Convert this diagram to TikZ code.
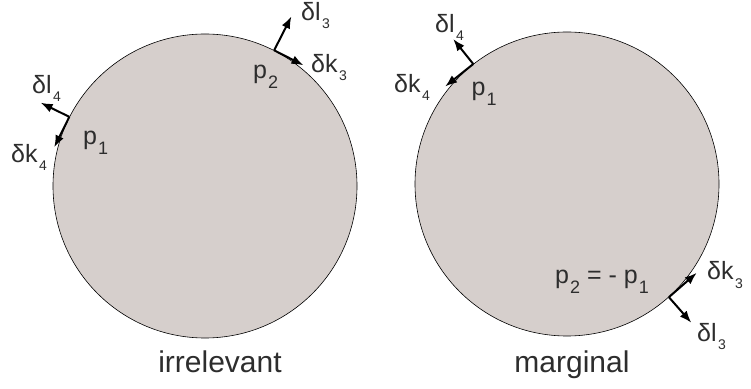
\documentclass[tikz,border=0pt]{standalone}
\usepackage{fontspec}
\setmainfont{Liberation Sans}
\usetikzlibrary{arrows.meta}
\definecolor{discFill}{RGB}{214,207,204}
\definecolor{labelGray}{RGB}{45,45,45}
% small subscripts for the variations and for the momenta
\newcommand{\dsub}[1]{\kern1.5pt\lower8pt\hbox{\fontsize{14}{14}\selectfont #1}}
\newcommand{\psub}[1]{\kern1pt\lower10pt\hbox{\fontsize{18}{18}\selectfont #1}}
\begin{document}
\begin{tikzpicture}[x=1pt, y=1pt,
  disc/.style={circle, draw=black, fill=discFill, line width=0.6pt, inner sep=0pt, minimum size=304pt},
  vec/.style={draw=black, line width=2pt, -{Latex[length=12pt,width=9pt]}},
  lab/.style={anchor=base west, inner sep=0pt, text=labelGray, font=\fontsize{25}{29}\selectfont},
  caption/.style={anchor=base, inner sep=0pt, text=labelGray, font=\fontsize{30}{34}\selectfont}]
\useasboundingbox (0,0) rectangle (751,388);
% Fermi surfaces
\node[disc] (discL) at (205,202) {};
\node[disc] (discR) at (567,204) {};
% Base points on the surfaces
\coordinate (baseL1) at (discL.153.7);
\coordinate (baseL2) at (discL.63);
\coordinate (baseR1) at (discR.128.7);
\coordinate (baseR2) at (discR.-48.8);
% Arrow tips: normal (l) and tangent (k)
\path (baseL1) ++(153.7:32) coordinate (tipL4l);
\path (baseL1) ++(243.7:34) coordinate (tipL4k);
\path (baseL2) ++(63:38) coordinate (tipL3l);
\path (baseL2) ++(-27:33) coordinate (tipL3k);
\path (baseR1) ++(128.7:32) coordinate (tipR4l);
\path (baseR1) ++(218.7:36) coordinate (tipR4k);
\path (baseR2) ++(-48.8:34) coordinate (tipR3l);
\path (baseR2) ++(41.2:37) coordinate (tipR3k);
\draw[vec] (baseL1) -- (tipL4l);
\draw[vec] (baseL1) -- (tipL4k);
\draw[vec] (baseL2) -- (tipL3l);
\draw[vec] (baseL2) -- (tipL3k);
\draw[vec] (baseR1) -- (tipR4l);
\draw[vec] (baseR1) -- (tipR4k);
\draw[vec] (baseR2) -- (tipR3l);
\draw[vec] (baseR2) -- (tipR3k);
% Labels, left
\node[lab] (labL4l) at (32,294) {δl\dsub{4}};
\node[lab] (labL4k) at (11,225) {δk\dsub{4}};
\node[lab] (labLp1) at (83,243.5) {p\psub{1}};
\node[lab] (labL3l) at (301,367.5) {δl\dsub{3}};
\node[lab] (labL3k) at (311,315.5) {δk\dsub{3}};
\node[lab] (labLp2) at (253,309.5) {p\psub{2}};
% Labels, right
\node[lab] (labR4l) at (435,355) {δl\dsub{4}};
\node[lab] (labR4k) at (394,295) {δk\dsub{4}};
\node[lab] (labRp1) at (471.5,292) {p\psub{1}};
\node[lab] (labR3k) at (707,108) {δk\dsub{3}};
\node[lab] (labR3l) at (697,46.5) {δl\dsub{3}};
\node[lab] (labRp2) at (555,104.5) {p\psub{2} = - p\psub{1}};
% Captions
\node[caption] (capL) at (220,16) {irrelevant};
\node[caption] (capR) at (572,16) {marginal};
\end{tikzpicture}
\end{document}
